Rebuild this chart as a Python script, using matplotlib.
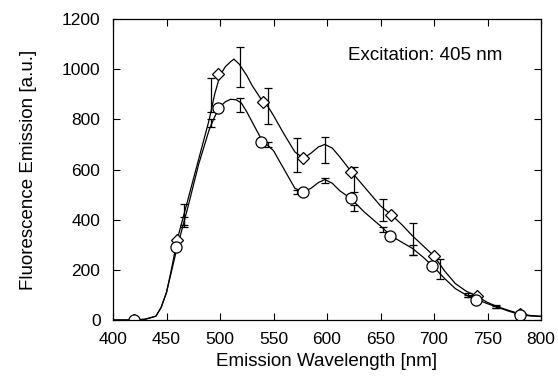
import matplotlib
matplotlib.use("Agg")
import matplotlib.pyplot as plt
import numpy as np

plt.rcParams['font.family'] = ['Liberation Sans', 'DejaVu Sans']

# Spectrum curves (hand-read)
wl_upper = [400, 420, 430, 440, 445, 450, 455, 460, 465, 470, 480, 490, 495, 500, 505, 510, 513, 518, 525, 530, 540, 545, 550, 560, 570, 578, 585, 592, 598, 605, 612, 622, 635, 650, 660, 670, 680, 690, 700, 710, 720, 730, 740, 750, 760, 770, 780, 790, 800]
val_upper = [0, 0, 3, 15, 50, 110, 210, 320, 400, 480, 640, 800, 900, 975, 1010, 1030, 1040, 1020, 975, 935, 870, 850, 815, 740, 670, 645, 665, 690, 700, 685, 650, 595, 530, 455, 420, 380, 335, 295, 255, 195, 145, 115, 95, 70, 52, 38, 25, 18, 15]

wl_lower = [400, 420, 430, 440, 445, 450, 455, 460, 465, 470, 480, 490, 495, 500, 505, 510, 515, 520, 525, 530, 540, 545, 550, 560, 570, 578, 585, 592, 598, 605, 612, 622, 635, 650, 660, 670, 680, 690, 700, 710, 720, 730, 740, 750, 760, 770, 780, 790, 800]
val_lower = [0, 0, 3, 15, 50, 110, 200, 290, 370, 450, 620, 760, 810, 850, 870, 880, 878, 865, 830, 790, 710, 695, 675, 600, 525, 510, 525, 548, 560, 545, 515, 485, 430, 375, 335, 310, 285, 250, 210, 165, 125, 100, 82, 65, 50, 35, 22, 16, 14]

# Markers
mk_upper_x = [420, 460, 498, 540, 578, 622, 660, 700, 740, 780]
mk_upper_y = [0, 320, 980, 870, 645, 590, 420, 255, 95, 25]
mk_lower_x = [420, 459, 498, 538, 578, 622, 659, 698, 739, 780]
mk_lower_y = [0, 290, 845, 710, 510, 485, 335, 215, 80, 20]

# Error bars
eb_upper_x = [466, 492, 519, 545, 572, 598, 625, 652, 680, 732, 758]
eb_upper_y = [417, 898, 1010, 853, 658, 678, 561, 438, 323, 100, 53]
eb_upper_e = [45, 68, 80, 72, 66, 53, 50, 44, 65, 8, 5]
eb_lower_x = [466, 492, 519, 545, 572, 598, 625, 652, 680, 706, 732, 758]
eb_lower_y = [395, 785, 857, 698, 512, 555, 447, 361, 279, 205, 95, 50]
eb_lower_e = [15, 15, 27, 10, 8, 10, 12, 11, 20, 40, 5, 4]

fig = plt.figure(figsize=(5.58, 3.76), dpi=100)
ax = fig.add_axes([113/558, 1 - 320/376, (541-113)/558, (320-19)/376])

ax.plot(wl_upper, val_upper, color='black', lw=0.9)
ax.plot(wl_lower, val_lower, color='black', lw=0.9)
ax.errorbar(eb_upper_x, eb_upper_y, yerr=eb_upper_e, fmt='none', ecolor='black', elinewidth=0.9, capsize=3, capthick=0.9)
ax.errorbar(eb_lower_x, eb_lower_y, yerr=eb_lower_e, fmt='none', ecolor='black', elinewidth=0.9, capsize=3, capthick=0.9)
ax.plot(mk_upper_x, mk_upper_y, 'D', ms=6.5, mfc='white', mec='black', mew=0.9, ls='none')
ax.plot(mk_lower_x, mk_lower_y, 'o', ms=8, mfc='white', mec='black', mew=0.9, ls='none')

ax.set_xlim(400, 800)
ax.set_ylim(0, 1200)
ax.set_xticks(np.arange(400, 801, 50))
ax.set_yticks(np.arange(0, 1201, 200))
ax.tick_params(direction='in', top=True, right=True, length=5, width=0.8, labelsize=12.5)
ax.tick_params(axis='x', pad=9)
ax.tick_params(axis='y', pad=9)
for s in ax.spines.values():
    s.set_linewidth(0.9)
ax.set_xlabel('Emission Wavelength [nm]', fontsize=13.5, labelpad=4)
ax.set_ylabel('Fluorescence Emission [a.u.]', fontsize=13.5, labelpad=18)
ax.text(0.91, 0.878, 'Excitation: 405 nm', transform=ax.transAxes, ha='right', va='center', fontsize=13.5)

fig.savefig('out.png', dpi=100)
